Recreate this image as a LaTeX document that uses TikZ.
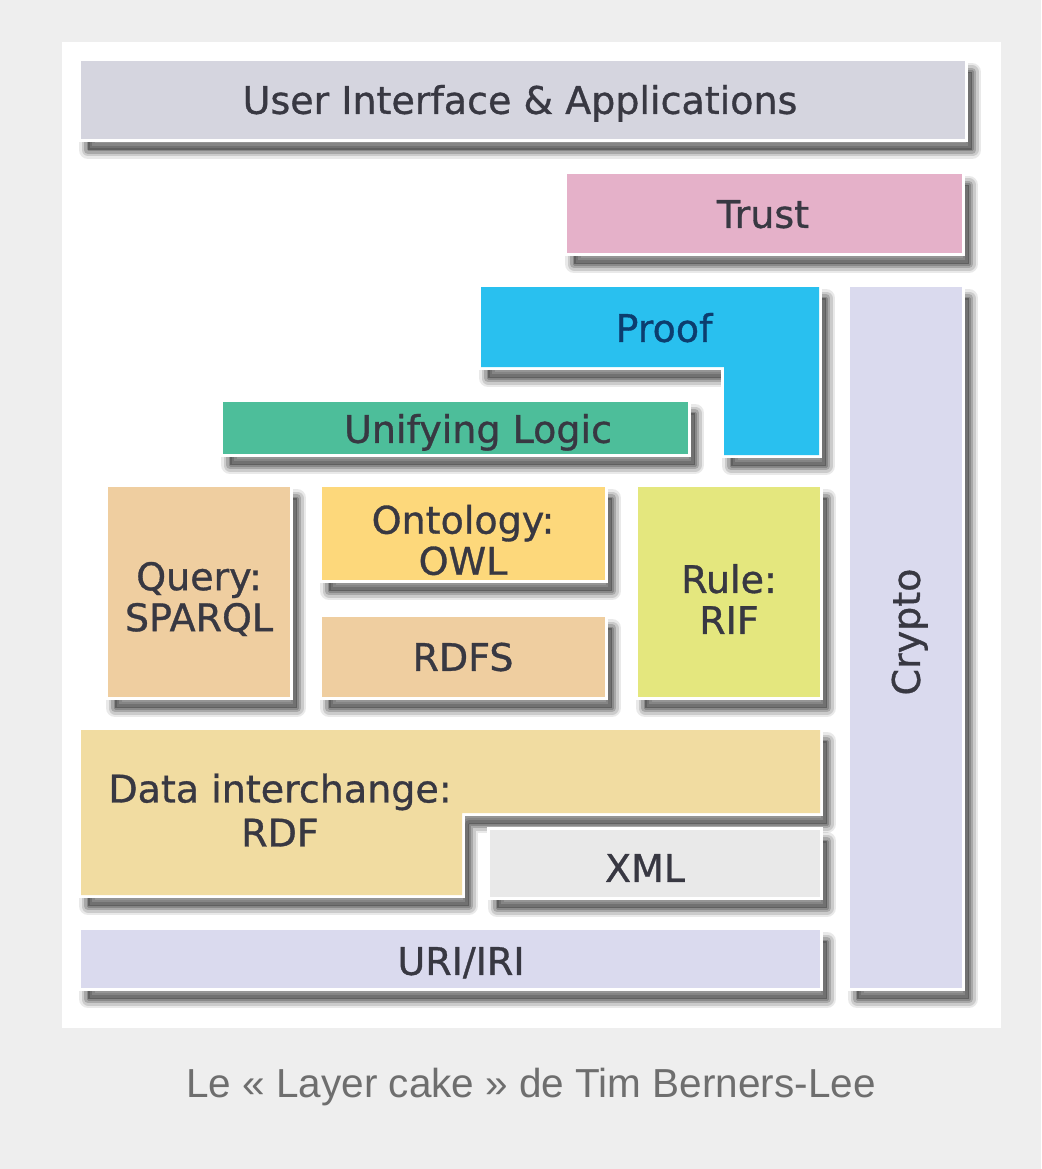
\documentclass[tikz,border=0pt]{standalone}
\usepackage{fontspec}
\setmainfont{DejaVu Sans}[FakeBold=0.9]
\newfontfamily\capfont{Liberation Sans}
\definecolor{bgc}{HTML}{EEEEEE}
\definecolor{uic}{HTML}{D5D5DF}
\definecolor{trustc}{HTML}{E5B1C9}
\definecolor{proofc}{HTML}{29C0EF}
\definecolor{cryptoc}{HTML}{DADAEE}
\definecolor{logicc}{HTML}{4DBE9A}
\definecolor{queryc}{HTML}{EFCEA0}
\definecolor{owlc}{HTML}{FDD87B}
\definecolor{rulec}{HTML}{E4E77E}
\definecolor{datac}{HTML}{F1DCA1}
\definecolor{xmlc}{HTML}{E9E9E9}
\definecolor{txtc}{HTML}{383842}
\definecolor{prooftxt}{HTML}{0C3D6E}
\definecolor{capc}{HTML}{6E6E6E}
\definecolor{shadc}{HTML}{303030}
\newcommand\cakelayer[2]{%
  \begin{scope}[shift={(7,11)}]
    \draw[shadc,opacity=0.10,line width=18,line join=round] #2;
    \draw[shadc,opacity=0.16,line width=13,line join=round] #2;
    \draw[shadc,opacity=0.22,line width=8,line join=round] #2;
    \draw[shadc,opacity=0.25,line width=3,line join=round] #2;
    \fill[shadc,opacity=0.45] #2;
  \end{scope}
  \filldraw[white,line width=6,line join=miter] #2;
  \fill[#1] #2;
}
\tikzset{
  lblone/.style={font=\fontsize{38}{41}\selectfont, text=txtc, inner sep=0pt,
    text height=27.7pt, text depth=0pt},
  lbltwo/.style={font=\fontsize{38}{41}\selectfont, text=txtc, inner sep=0pt,
    align=center},
}
\begin{document}
\begin{tikzpicture}[x=1pt,y=-1pt]
\useasboundingbox (0,0) rectangle (1041,1169);
\fill[bgc] (0,0) rectangle (1041,1169);
\fill[white] (62,42) rectangle (1001,1028);

% layers
\cakelayer{uic}{(81,61) rectangle (965,139)}
\cakelayer{trustc}{(567,174) rectangle (962,253)}
\cakelayer{proofc}{(481,287) -- (819,287) -- (819,455) -- (724,455) -- (724,367) -- (481,367) -- cycle}
\cakelayer{cryptoc}{(850,287) rectangle (962,988)}
\cakelayer{logicc}{(223,402) rectangle (688,454)}
\cakelayer{queryc}{(108,487) rectangle (290,697)}
\cakelayer{owlc}{(322,487) rectangle (605,580)}
\cakelayer{queryc}{(322,617) rectangle (605,697)}
\cakelayer{rulec}{(638,487) rectangle (820,697)}
\cakelayer{datac}{(81,730) -- (820,730) -- (820,813) -- (462,813) -- (462,895) -- (81,895) -- cycle}
\cakelayer{xmlc}{(490,830) rectangle (820,897)}
\cakelayer{cryptoc}{(81,930) rectangle (820,988)}

% labels
\node[lblone] (ui) at (520,100) {User Interface \& Applications};
\node[lblone] (trust) at (763,214) {Trust};
\node[lblone, text=prooftxt] (proof) at (664,328) {Proof};
\node[lblone, rotate=90] (crypto) at (906,632) {Crypto};
\node[lblone] (logic) at (478,429) {Unifying Logic};
\node[lbltwo] (query) at (199,599) {Query:\\SPARQL};
\node[lbltwo] (owl) at (463,540) {Ontology:\\OWL};
\node[lblone] (rdfs) at (463,657) {RDFS};
\node[lbltwo] (rule) at (729,599) {Rule:\\RIF};
\node[lbltwo, font=\fontsize{38}{44}\selectfont] (data) at (280,810) {Data interchange:\\RDF};
\node[lblone] (xml) at (645,868) {XML};
\node[lblone] (uri) at (461,961) {URI/IRI};

% caption
\node[font=\capfont\fontsize{40.5}{46}\selectfont, text=capc, inner sep=0pt, anchor=base] (caption) at (531,1097) {Le « Layer cake » de Tim Berners-Lee};
\end{tikzpicture}
\end{document}
